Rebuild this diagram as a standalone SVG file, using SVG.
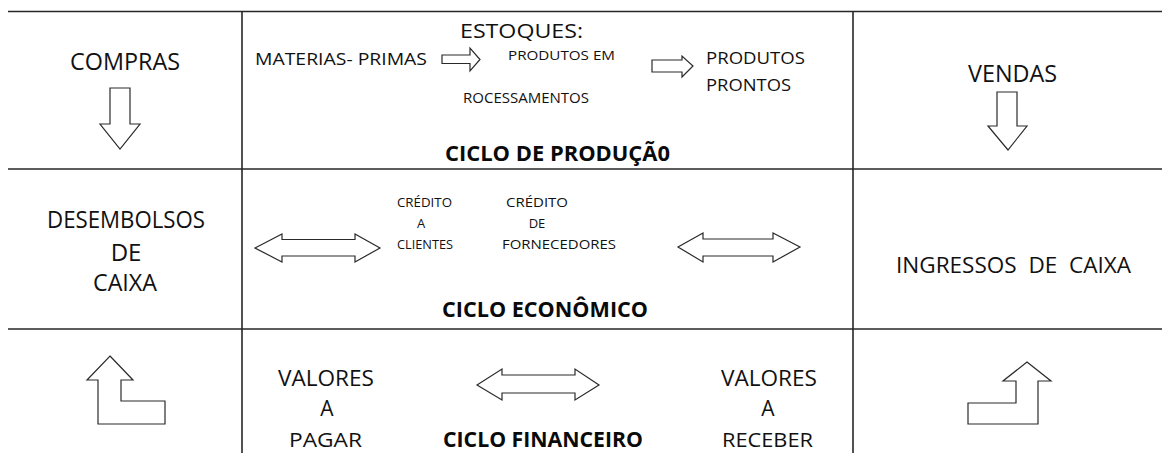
<svg xmlns="http://www.w3.org/2000/svg" width="1162" height="453" viewBox="0 0 1162 453">
<style>
.t{font-family:"Open Sans","Liberation Sans",sans-serif;fill:#111111}
.b{font-family:"Open Sans","Liberation Sans",sans-serif;font-weight:bold;fill:#0a0a0a}
.grid{stroke:#262626;stroke-width:1.6;fill:none}
.arr{fill:#ffffff;stroke:#2a2a2a;stroke-width:1.2;stroke-linejoin:miter}
</style>
<rect width="1162" height="453" fill="#ffffff"/>
<g id="grid">
<line class="grid" x1="8" y1="11.5" x2="1162" y2="11.5"/>
<line class="grid" x1="8" y1="169" x2="1162" y2="169"/>
<line class="grid" x1="8" y1="329" x2="1162" y2="329"/>
<line class="grid" x1="242" y1="11.5" x2="242" y2="453"/>
<line class="grid" x1="853" y1="11.5" x2="853" y2="453"/>
</g>
<g id="compras"><text class="t" x="70" y="70" font-size="23" textLength="110" lengthAdjust="spacingAndGlyphs">COMPRAS</text></g>
<g id="estoques"><text class="t" x="460" y="38" font-size="20" textLength="123" lengthAdjust="spacingAndGlyphs">ESTOQUES:</text></g>
<g id="materias"><text class="t" x="255" y="65" font-size="16.5" textLength="172" lengthAdjust="spacingAndGlyphs">MATERIAS- PRIMAS</text></g>
<g id="processamento">
<text class="t" x="508" y="60" font-size="13" textLength="107" lengthAdjust="spacingAndGlyphs">PRODUTOS EM</text>
<text class="t" x="463" y="103" font-size="14" textLength="126" lengthAdjust="spacingAndGlyphs">ROCESSAMENTOS</text>
</g>
<g id="prontos">
<text class="t" x="706" y="64" font-size="15.5" textLength="99" lengthAdjust="spacingAndGlyphs">PRODUTOS</text>
<text class="t" x="706" y="91" font-size="15.5" textLength="85" lengthAdjust="spacingAndGlyphs">PRONTOS</text>
</g>
<g id="ciclo-producao"><text class="b" x="445" y="161" font-size="21" textLength="225" lengthAdjust="spacingAndGlyphs">CICLO DE PRODUÇÃ0</text></g>
<g id="vendas"><text class="t" x="968" y="82" font-size="23" textLength="89" lengthAdjust="spacingAndGlyphs">VENDAS</text></g>
<g id="desembolsos">
<text class="t" x="47" y="228" font-size="24" textLength="158" lengthAdjust="spacingAndGlyphs">DESEMBOLSOS</text>
<text class="t" x="126" y="261" font-size="24" text-anchor="middle">DE</text>
<text class="t" x="93" y="291" font-size="24" textLength="64" lengthAdjust="spacingAndGlyphs">CAIXA</text>
</g>
<g id="credito-clientes">
<text class="t" x="397" y="207" font-size="13" textLength="55" lengthAdjust="spacingAndGlyphs">CRÉDITO</text>
<text class="t" x="421" y="228" font-size="13" text-anchor="middle">A</text>
<text class="t" x="397" y="249" font-size="13" textLength="56" lengthAdjust="spacingAndGlyphs">CLIENTES</text>
</g>
<g id="credito-fornecedores">
<text class="t" x="506" y="207" font-size="13" textLength="62" lengthAdjust="spacingAndGlyphs">CRÉDITO</text>
<text class="t" x="537" y="228" font-size="13" text-anchor="middle">DE</text>
<text class="t" x="502" y="249" font-size="13" textLength="114" lengthAdjust="spacingAndGlyphs">FORNECEDORES</text>
</g>
<g id="ciclo-economico"><text class="b" x="442" y="317" font-size="21" textLength="206" lengthAdjust="spacingAndGlyphs">CICLO ECONÔMICO</text></g>
<g id="ingressos"><text class="t" x="896" y="273" font-size="21.5" textLength="235" lengthAdjust="spacingAndGlyphs" xml:space="preserve">INGRESSOS  DE  CAIXA</text></g>
<g id="valores-pagar">
<text class="t" x="278" y="386" font-size="21" textLength="96" lengthAdjust="spacingAndGlyphs">VALORES</text>
<text class="t" x="327" y="416" font-size="21" text-anchor="middle">A</text>
<text class="t" x="289" y="447" font-size="20.5" textLength="73" lengthAdjust="spacingAndGlyphs">PAGAR</text>
</g>
<g id="ciclo-financeiro"><text class="b" x="443" y="447" font-size="20.5" textLength="200" lengthAdjust="spacingAndGlyphs">CICLO FINANCEIRO</text></g>
<g id="valores-receber">
<text class="t" x="721" y="386" font-size="21" textLength="96" lengthAdjust="spacingAndGlyphs">VALORES</text>
<text class="t" x="768" y="416" font-size="21" text-anchor="middle">A</text>
<text class="t" x="722" y="447" font-size="20.5" textLength="91" lengthAdjust="spacingAndGlyphs">RECEBER</text>
</g>
<g id="connectors">
<polygon class="arr" points="110,88 130,88 130,124 140,124 120,149 100,124 110,124"/>
<polygon class="arr" points="997,92 1017,92 1017,126 1027,126 1008,150 988,126 997,126"/>
<polygon class="arr" points="442,55 470,55 470,48 480,59.5 470,71 470,63.5 442,63.5"/>
<polygon class="arr" points="652,60 682,60 682,56 693,66 682,77 682,72 652,72"/>
<polygon class="arr" points="255,248 282,234 282,239.5 355,239.5 355,234 380,248 355,262 355,256 282,256 282,262"/>
<polygon class="arr" points="678,247 703,233 703,239 773,239 773,233 800,247 773,262 773,256 703,256 703,262"/>
<polygon class="arr" points="477,385 502,369 502,375 575,375 575,369 599,385 575,400 575,393 502,393 502,400"/>
<polygon class="arr" points="110,356 133,380 121,380 121,401 165,401 165,424 98,424 98,380 87,380"/>
<polygon class="arr" points="1027,362 1051,381 1038,381 1038,424 968,424 968,403 1016,403 1016,381 1003,381"/>
</g>
</svg>
